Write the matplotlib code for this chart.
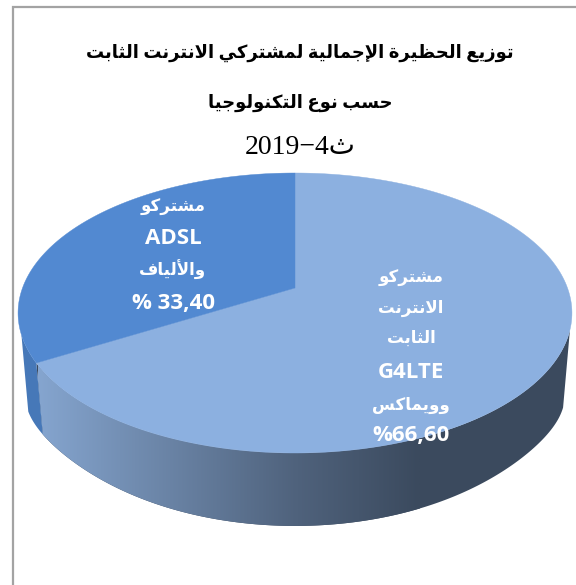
import re
import numpy as np
import matplotlib
matplotlib.use("Agg")
import matplotlib.pyplot as plt
from matplotlib.colors import LinearSegmentedColormap
from matplotlib.patches import Polygon

# ---- data ----
title_lines = ["توزيع الحظيرة الإجمالية لمشتركي الانترنت الثابت", "حسب نوع التكنولوجيا", "ث2019−4"]
share_values = [66.60, 33.40]
label_fibre = ["مشتركو", "ADSL", "والألياف", "% 33,40"]
label_fixed = ["مشتركو", "الانترنت", "الثابت", "G4LTE", "وويماكس", "%66,60"]

# ---- minimal Arabic shaping (matplotlib does not shape) ----
FORMS = {}
_four = "بتثجحخسشصضطظعغفقكلمنهي"
_four_start = [0xFE8F, 0xFE95, 0xFE99, 0xFE9D, 0xFEA1, 0xFEA5, 0xFEB1, 0xFEB5, 0xFEB9, 0xFEBD, 0xFEC1,
               0xFEC5, 0xFEC9, 0xFECD, 0xFED1, 0xFED5, 0xFED9, 0xFEDD, 0xFEE1, 0xFEE5, 0xFEE9, 0xFEF1]
for c, s in zip(_four, _four_start):
    FORMS[c] = (s, s + 1, s + 2, s + 3)
_two = {"آ": 0xFE81, "أ": 0xFE83, "ؤ": 0xFE85, "إ": 0xFE87, "ا": 0xFE8D, "ة": 0xFE93, "د": 0xFEA9,
        "ذ": 0xFEAB, "ر": 0xFEAD, "ز": 0xFEAF, "و": 0xFEED, "ى": 0xFEEF}
for c, s in _two.items():
    FORMS[c] = (s, s + 1, None, None)
LAM_ALEF = {"آ": 0xFEF5, "أ": 0xFEF7, "إ": 0xFEF9, "ا": 0xFEFB}


def shape_word(word):
    units = []
    i = 0
    while i < len(word):
        if word[i] == "ل" and i + 1 < len(word) and word[i + 1] in LAM_ALEF:
            units.append(("lam", LAM_ALEF[word[i + 1]]))
            i += 2
        else:
            units.append(("ch", word[i]))
            i += 1

    def joins_next(u):
        return u[0] == "ch" and u[1] in FORMS and FORMS[u[1]][2] is not None

    def joinable(u):
        return u[0] == "lam" or u[1] in FORMS

    out = []
    for k, u in enumerate(units):
        prev = k > 0 and joins_next(units[k - 1]) and joinable(u)
        nxt = k + 1 < len(units) and joins_next(u) and joinable(units[k + 1])
        if u[0] == "lam":
            out.append(chr(u[1] + (1 if prev else 0)))
        elif u[1] not in FORMS:
            out.append(u[1])
        else:
            f = FORMS[u[1]]
            if prev and nxt:
                out.append(chr(f[3]))
            elif prev:
                out.append(chr(f[1]))
            elif nxt:
                out.append(chr(f[2]))
            else:
                out.append(chr(f[0]))
    return "".join(reversed(out))


def has_arabic(line):
    return re.search(r"[\u0600-\u06FF]", line) is not None


def visual(line):
    runs = re.findall(r"[\u0600-\u06FF]+|[^\u0600-\u06FF\s]+|\s+", line)
    if not has_arabic(line):
        return line
    return "".join(shape_word(r) if re.match(r"[\u0600-\u06FF]", r) else r for r in reversed(runs))


# ---- geometry ----
CX, APEX_Y, CY = 295.0, 288.0, 313.0
C_PERSP, A_PERSP, D_PERSP = 0.1786, -84.1, 272.5
DEPTH, SY, SX, SIDE = 58.5, 1.103, 0.975, 25.0


def top_xy(theta_deg):
    t = np.radians(np.asarray(theta_deg, dtype=float))
    u, v = np.cos(t), np.sin(t)
    den = 1 + C_PERSP * v
    return CX + D_PERSP * u / den, (APEX_Y + A_PERSP * v) / den


def bottom_xy(theta_deg):
    x, y = top_xy(theta_deg)
    u = np.cos(np.radians(np.asarray(theta_deg, dtype=float)))
    return CX + (x - CX) * SX, CY + (y - CY) * SY + DEPTH + SIDE * np.abs(u) ** 8


def slice_top(t0, t1):
    th = np.linspace(t0, t1, 200)
    x, y = top_xy(th)
    return np.column_stack([np.r_[CX, x], np.r_[APEX_Y, y]])


def slice_wall(t0, t1):
    th = np.linspace(t0, t1, 200)
    x0, y0 = top_xy(th)
    x1, y1 = bottom_xy(th[::-1])
    return np.column_stack([np.r_[x0, x1], np.r_[y0, y1]])


fig = plt.figure(figsize=(5.76, 5.85), dpi=100, facecolor="white")
ax = fig.add_axes([0, 0, 1, 1])

# angles from the values (clockwise from north)
sweep = [v / sum(share_values) * 360 for v in share_values]
split = 90 - sweep[0]  # boundary between slices

# front wall with horizontal gradient
cmap = LinearSegmentedColormap.from_list(
    "wall", [(0, "#85a5cf"), (0.68, "#4f627c"), (1.0, "#3b4a5e")])
grad = np.linspace(0, 1, 256).reshape(1, -1)
wall_outline = slice_wall(-17, split)
ax.add_patch(Polygon(wall_outline, closed=True, facecolor="#3b4a5e", edgecolor="none", zorder=0.5))
front = Polygon(wall_outline, closed=True, transform=ax.transData, facecolor="none", edgecolor="none")
ax.add_patch(front)
im = ax.imshow(grad, cmap=cmap, extent=[38, 420, 540, 300], aspect="auto", zorder=1)
im.set_clip_path(front)

# left wall of the darker slice
ax.add_patch(Polygon(slice_wall(split, -161), closed=True, facecolor="#4678b8", edgecolor="none", zorder=1.5))

# tops
ax.add_patch(Polygon(slice_top(90, split), closed=True, facecolor="#8cb0e0", edgecolor="#8cb0e0", lw=0.3, zorder=3))
ax.add_patch(Polygon(slice_top(90, 90 + sweep[1]), closed=True, facecolor="#5289d1", edgecolor="#5289d1", lw=0.3, zorder=3))

# frame
ax.plot([12.5, 12.5, 576], [585, 7, 7], color="#a3a3a3", lw=1.6, zorder=4, solid_joinstyle="miter")

# text
title_font = ["Liberation Serif", "DejaVu Sans"]
for line, y, fs, wt in zip(title_lines, [53, 103, 148], [13, 13, 20], ["bold", "bold", "normal"]):
    ax.text(300, y, visual(line), ha="center", va="center", family=title_font, fontweight=wt,
            fontsize=fs, color="black", zorder=5)

label_font = ["Open Sans", "DejaVu Sans"]


def draw_label(lines, ys, x):
    for line, y in zip(lines, ys):
        ax.text(x, y, visual(line), ha="center", va="center", family=label_font, fontweight="bold",
                fontsize=12 if has_arabic(line) else 16, color="white", zorder=5)


draw_label(label_fibre, [207, 238, 270, 303], 173)
draw_label(label_fixed, [278, 308, 338, 373, 405, 435], 411)

ax.set_xlim(0, 576)
ax.set_ylim(585, 0)
ax.axis("off")
fig.savefig("out.png", dpi=100, facecolor="white")
